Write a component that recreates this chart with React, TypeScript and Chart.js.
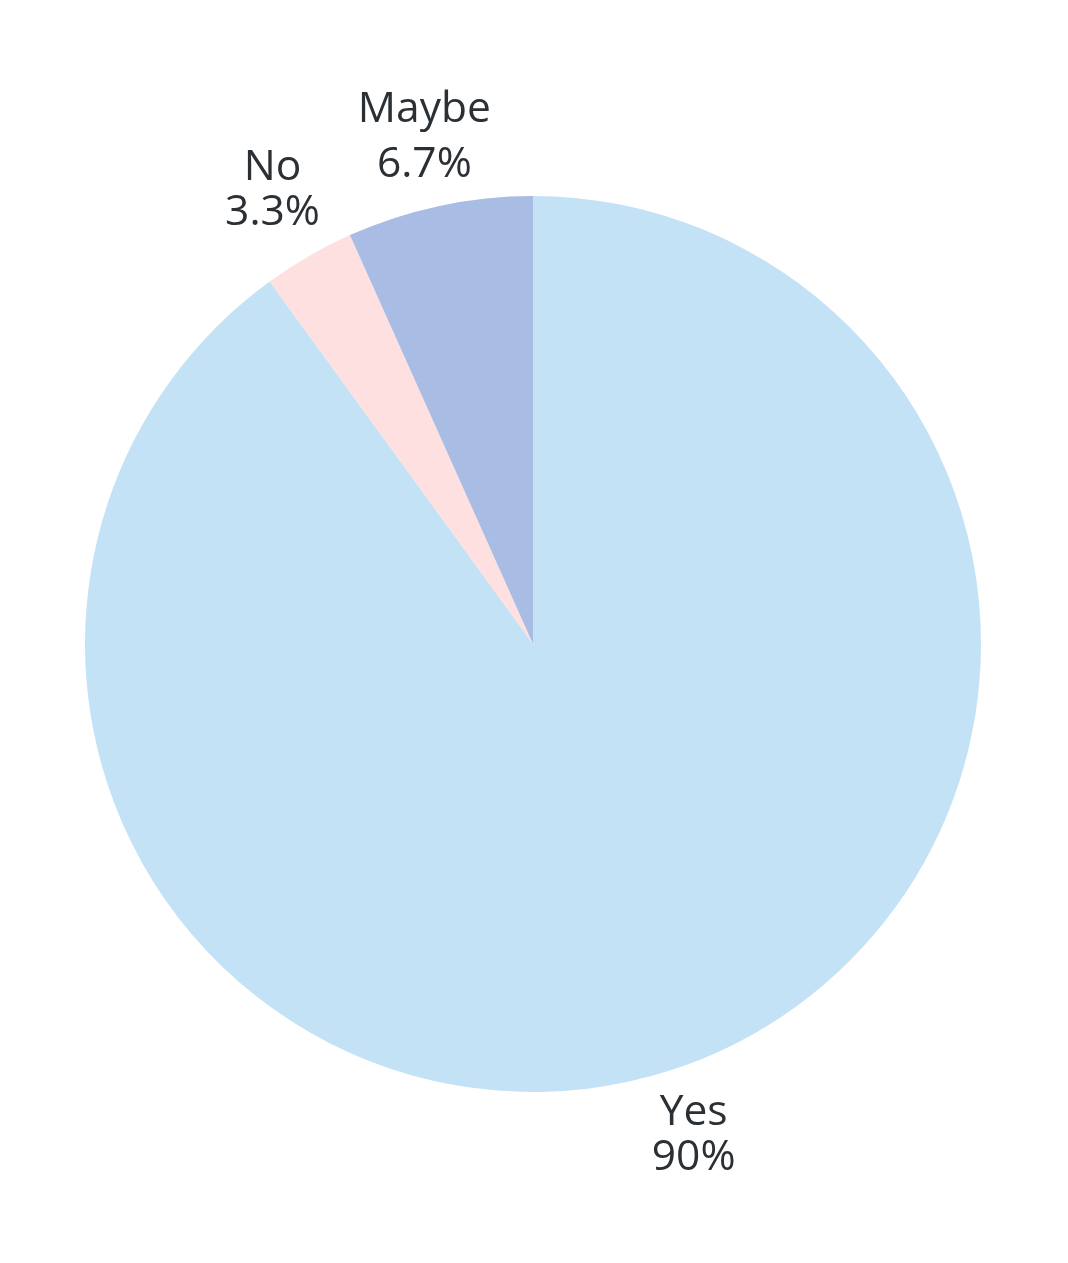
import React, { useEffect, useRef } from "react";
import { Chart, registerables } from "chart.js";

Chart.register(...registerables);

const categories = ["Yes", "No", "Maybe"];
const values = [90, 3.3, 6.7];
const percentLabels = ["90%", "3.3%", "6.7%"];
const colors = ["#c4e2f6", "#fde0df", "#a9bce3"];

const outsideLabels = {
  id: "outsideLabels",
  afterDatasetsDraw(chart: any) {
    const ctx = chart.ctx;
    const meta = chart.getDatasetMeta(0);
    ctx.save();
    ctx.font = '42.5px "Open Sans"';
    ctx.fillStyle = "#2b3035";
    ctx.textAlign = "center";
    ctx.textBaseline = "alphabetic";
    meta.data.forEach((arc: any, i: number) => {
      const p = arc.getProps(["x", "y", "startAngle", "endAngle", "outerRadius"], true);
      const mid = (p.startAngle + p.endAngle) / 2;
      const r = p.outerRadius + 72;
      const cx = p.x + Math.cos(mid) * r;
      const cy = p.y + Math.sin(mid) * r;
      const line1 = categories[i];
      const line2 = percentLabels[i];
      const m1 = ctx.measureText(line1);
      const desc = Math.max(0, m1.actualBoundingBoxDescent || 0);
      const cap = 30;
      const gap = 45 + desc;
      const top = cy - (cap + 45) / 2 - 6;
      ctx.fillText(line1, cx, top + cap);
      ctx.fillText(line2, cx, top + cap + gap);
    });
    ctx.restore();
  },
};

export default function App() {
  const ref = useRef<HTMLCanvasElement | null>(null);
  useEffect(() => {
    document.body.style.margin = "0";
    const chart = new Chart(ref.current!, {
      type: "pie",
      data: {
        labels: categories,
        datasets: [
          {
            data: values,
            backgroundColor: colors,
            borderWidth: 0,
          },
        ],
      },
      options: {
        responsive: false,
        animation: false,
        layout: { padding: { left: 85, right: 87, top: 196, bottom: 171 } },
        plugins: {
          legend: { display: false },
          tooltip: { enabled: false },
        },
      },
      plugins: [outsideLabels],
    });
    return () => chart.destroy();
  }, []);
  return (
    <div style={{ position: "absolute", left: 0, top: 0, width: 1068, height: 1263, background: "#fff" }}>
      <canvas ref={ref} width={1068} height={1263} style={{ width: 1068, height: 1263 }} />
    </div>
  );
}
